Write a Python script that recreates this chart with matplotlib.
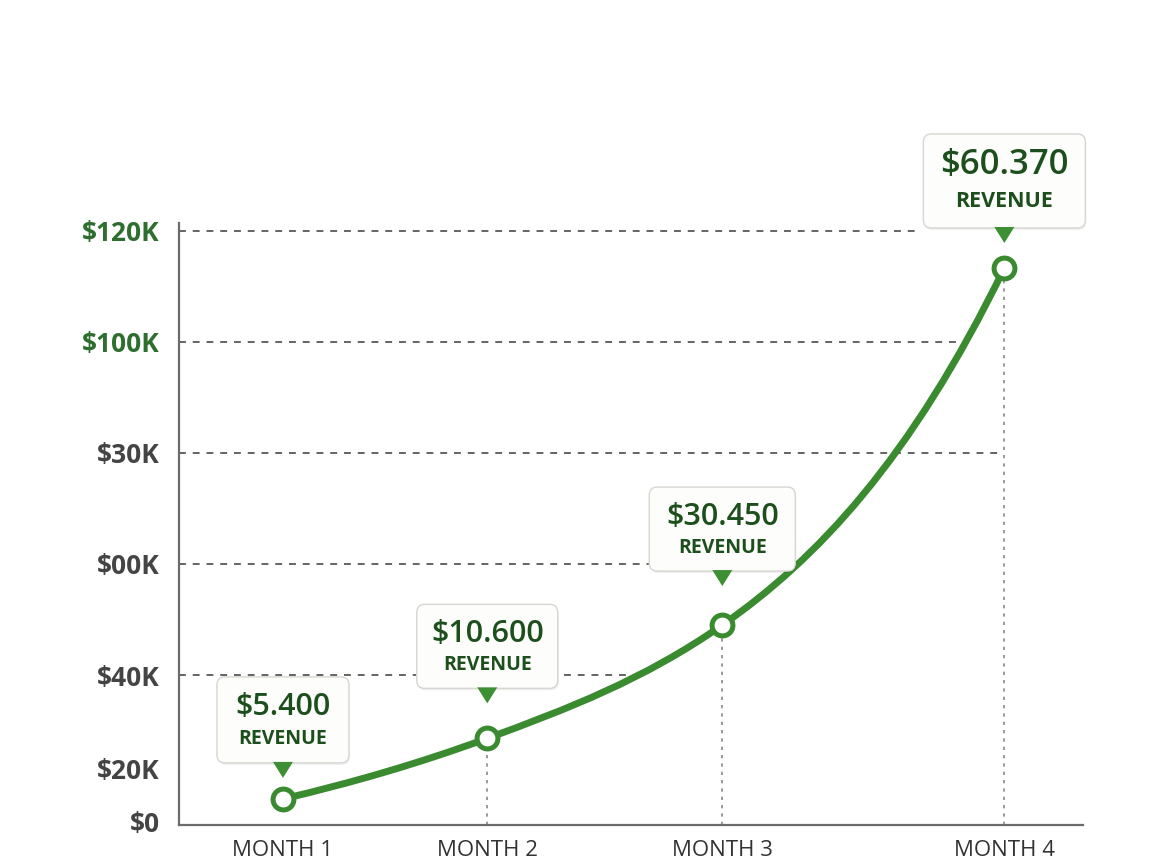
import matplotlib
matplotlib.use("Agg")
import matplotlib.pyplot as plt
import matplotlib.transforms as mtransforms
from matplotlib.patches import FancyBboxPatch, Polygon, PathPatch
from matplotlib.path import Path
import numpy as np

plt.rcParams["font.family"] = ["Open Sans", "DejaVu Sans"]

# data
months = ["MONTH 1", "MONTH 2", "MONTH 3", "MONTH 4"]
month_x = [11.5, 34.1, 60.1, 91.3]
revenue_plot = [17.7, 28.6, 49.0, 113.3]
revenue_labels = ["$5.400", "$10.600", "$30.450", "$60.370"]
ytick_vals = [13.6, 23.2, 40, 60, 80, 100, 120]
ytick_labels = ["$0", "$20K", "$40K", "$00K", "$30K", "$100K", "$120K"]
grid_vals = [40, 60, 80, 100, 120]

GREEN = "#3a8a2f"
DARK_GREEN = "#1d4f1d"

fig = plt.figure(figsize=(11.55, 8.66), dpi=100)
ax = fig.add_axes([179 / 1155, 41 / 866, 904 / 1155, 602 / 866])
ax.set_xlim(0, 100)
ax.set_ylim(13, 121.4)

# dashed horizontal guides, each ends where the picture lets it end
grid_end = [49.9, 52.0, 91.2, 86.4, 82.0]
ax.hlines(grid_vals, 0, grid_end, colors="#3a3a3a", linewidth=1.1,
          linestyles=(0, (4.5, 4.5)), zorder=1)

# dotted drop lines for months 2-4
for xv, yv in zip(month_x[1:], revenue_plot[1:]):
    ax.vlines(xv, 13, yv, colors="#8a8a8a", linewidth=1.2,
              linestyles=(0, (2, 3)), zorder=1)

# smooth curve through the points (cubic bezier segments)
xs = np.array(month_x)
ys = np.array(revenue_plot)
s = np.diff(ys) / np.diff(xs)
d = np.zeros(len(xs))
d[1:-1] = 2 / (1 / s[:-1] + 1 / s[1:])
d[0] = s[0] * np.sqrt(s[0] / s[1])
d[-1] = s[-1] * np.sqrt(s[-1] / s[-2])
verts = [(xs[0], ys[0])]
codes = [Path.MOVETO]
for i in range(len(xs) - 1):
    h = xs[i + 1] - xs[i]
    verts += [(xs[i] + h / 3, ys[i] + d[i] * h / 3),
              (xs[i + 1] - h / 3, ys[i + 1] - d[i + 1] * h / 3),
              (xs[i + 1], ys[i + 1])]
    codes += [Path.CURVE4] * 3
ax.add_patch(PathPatch(Path(verts, codes), fill=False, edgecolor=GREEN,
                       linewidth=5, capstyle="round", zorder=3))

ax.plot(month_x, revenue_plot, linestyle="none", marker="o", markersize=15,
        markerfacecolor="white", markeredgecolor=GREEN, markeredgewidth=3.6,
        zorder=4)

# callout boxes (sizes/offsets in pixels relative to each point)
box_size = [(132, 86), (141, 84), (146, 84), (162, 94)]
box_gap = [36, 50, 54, 40]
val_size = [22, 22, 22, 25]
rev_size = [14, 14, 14, 15.5]
for i, lab in enumerate(revenue_labels):
    trans = fig.dpi_scale_trans + mtransforms.ScaledTranslation(
        month_x[i], revenue_plot[i], ax.transData)
    w, hgt = box_size[i]
    b = box_gap[i]
    shadow = FancyBboxPatch(((-w / 2 + 1) / 100, (b - 2) / 100), w / 100, hgt / 100,
                            boxstyle="round,pad=0,rounding_size=0.08",
                            facecolor="#000000", alpha=0.06, edgecolor="none",
                            transform=trans, clip_on=False, zorder=5)
    box = FancyBboxPatch((-w / 2 / 100, b / 100), w / 100, hgt / 100,
                         boxstyle="round,pad=0,rounding_size=0.08",
                         facecolor="#fdfdfb", edgecolor="#d6d6d2", linewidth=1,
                         transform=trans, clip_on=False, zorder=6)
    ax.add_patch(shadow)
    ax.add_patch(box)
    tri = Polygon([(-10 / 100, (b + 1) / 100), (10 / 100, (b + 1) / 100),
                   (0, (b - 15) / 100)], closed=True, facecolor="#3d8f33",
                  edgecolor="none", transform=trans, clip_on=False, zorder=6)
    ax.add_patch(tri)
    top = b + hgt
    ax.text(0, (top - 40 if i == 3 else top - 38) / 100, lab, transform=trans,
            ha="center", va="baseline", fontsize=val_size[i], color=DARK_GREEN,
            fontweight="semibold", zorder=7)
    ax.text(0, (b + 21 if i == 3 else b + 18.5) / 100, "REVENUE", transform=trans,
            ha="center", va="baseline", fontsize=rev_size[i], color=DARK_GREEN,
            fontweight="bold", zorder=7)

# axes styling
for side in ["top", "right"]:
    ax.spines[side].set_visible(False)
for side in ["left", "bottom"]:
    ax.spines[side].set_color("#6b6b6b")
    ax.spines[side].set_linewidth(1.6)

ax.set_xticks(month_x, months)
ax.set_yticks(ytick_vals, ytick_labels)
ax.tick_params(axis="both", length=0)
ax.tick_params(axis="y", pad=14, labelsize=19)
ax.tick_params(axis="x", pad=11, labelsize=16, labelcolor="#333333")
for t, lab in zip(ax.get_yticklabels(), ytick_labels):
    t.set_fontweight("bold")
    t.set_color("#2e6e2e" if lab in ("$100K", "$120K") else "#444444")

fig.savefig("out.png", dpi=100)
